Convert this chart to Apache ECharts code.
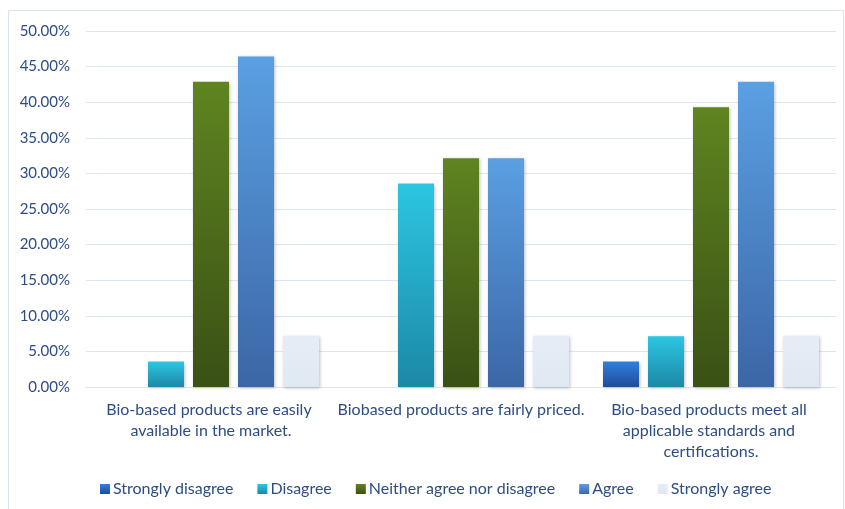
<!DOCTYPE html>
<html><head><meta charset="utf-8">
<script src="https://cdn.jsdelivr.net/npm/echarts@6/dist/echarts.min.js"></script>
<style>html,body{margin:0;padding:0;background:#fff}#c{width:845px;height:509px}</style>
</head><body><div id="c"></div>
<script>
const categories = ["Bio-based products are easily available in the market.", "Biobased products are fairly priced.", "Bio-based products meet all applicable standards and certifications."];
const seriesNames = ["Strongly disagree", "Disagree", "Neither agree nor disagree", "Agree", "Strongly agree"];
const stronglyDisagree = [0, 0, 3.57];
const disagree = [3.57, 28.57, 7.14];
const neither = [42.86, 32.14, 39.29];
const agree = [46.43, 32.14, 42.86];
const stronglyAgree = [7.14, 7.14, 7.14];
const yTicks = [0, 5, 10, 15, 20, 25, 30, 35, 40, 45, 50];

const values = [stronglyDisagree, disagree, neither, agree, stronglyAgree];
const grads = [["#2F80DC", "#1F4C98"], ["#2CC6E2", "#1C88A6"], ["#5F8420", "#3A5015"], ["#5AA0E2", "#3C66A6"], ["#E6EDF6", "#E0E8F2"]];
const txt = "#2E4C85";
const font = "Lato";
const chart = echarts.init(document.getElementById('c'), null, {renderer: 'canvas'});
chart.setOption({
  animation: false,
  textStyle: {fontFamily: font},
  graphic: [{type: 'rect', shape: {x: 8.5, y: 10.5, width: 835, height: 510}, style: {fill: 'none', stroke: '#D8E3F1', lineWidth: 1}}],
  grid: {left: 86, right: 9, top: 31, bottom: 122},
  legend: {
    bottom: 12, left: 100, itemWidth: 10, itemHeight: 10, itemGap: 24, padding: 0,
    icon: 'rect', textStyle: {color: txt, fontSize: 16, fontFamily: font, padding: [0,0,0,-2]},
    data: seriesNames
  },
  xAxis: {
    type: 'category', data: categories,
    axisLine: {show: true, lineStyle: {color: '#DCE6F2'}}, axisTick: {show: false},
    axisLabel: {color: txt, fontSize: 16, fontFamily: font, width: 250, overflow: 'break', lineHeight: 21, margin: 12, interval: 0}
  },
  yAxis: {
    type: 'value', min: 0, max: 50, interval: 5,
    axisLine: {show: false}, axisTick: {show: false},
    splitLine: {lineStyle: {color: '#DCE6F2', width: 1}},
    axisLabel: {color: txt, fontSize: 15, fontFamily: font, margin: 16, formatter: v => v.toFixed(2) + '%'}
  },
  series: seriesNames.map((n, i) => ({
    name: n, type: 'bar', data: values[i], barGap: '25%', barCategoryGap: '13.6%',
    itemStyle: {
      color: new echarts.graphic.LinearGradient(0, 0, 0, 1, [{offset: 0, color: grads[i][0]}, {offset: 1, color: grads[i][1]}]),
      shadowBlur: 3, shadowColor: 'rgba(0,0,0,0.25)', shadowOffsetX: 1, shadowOffsetY: 1
    }
  }))
});
</script></body></html>
